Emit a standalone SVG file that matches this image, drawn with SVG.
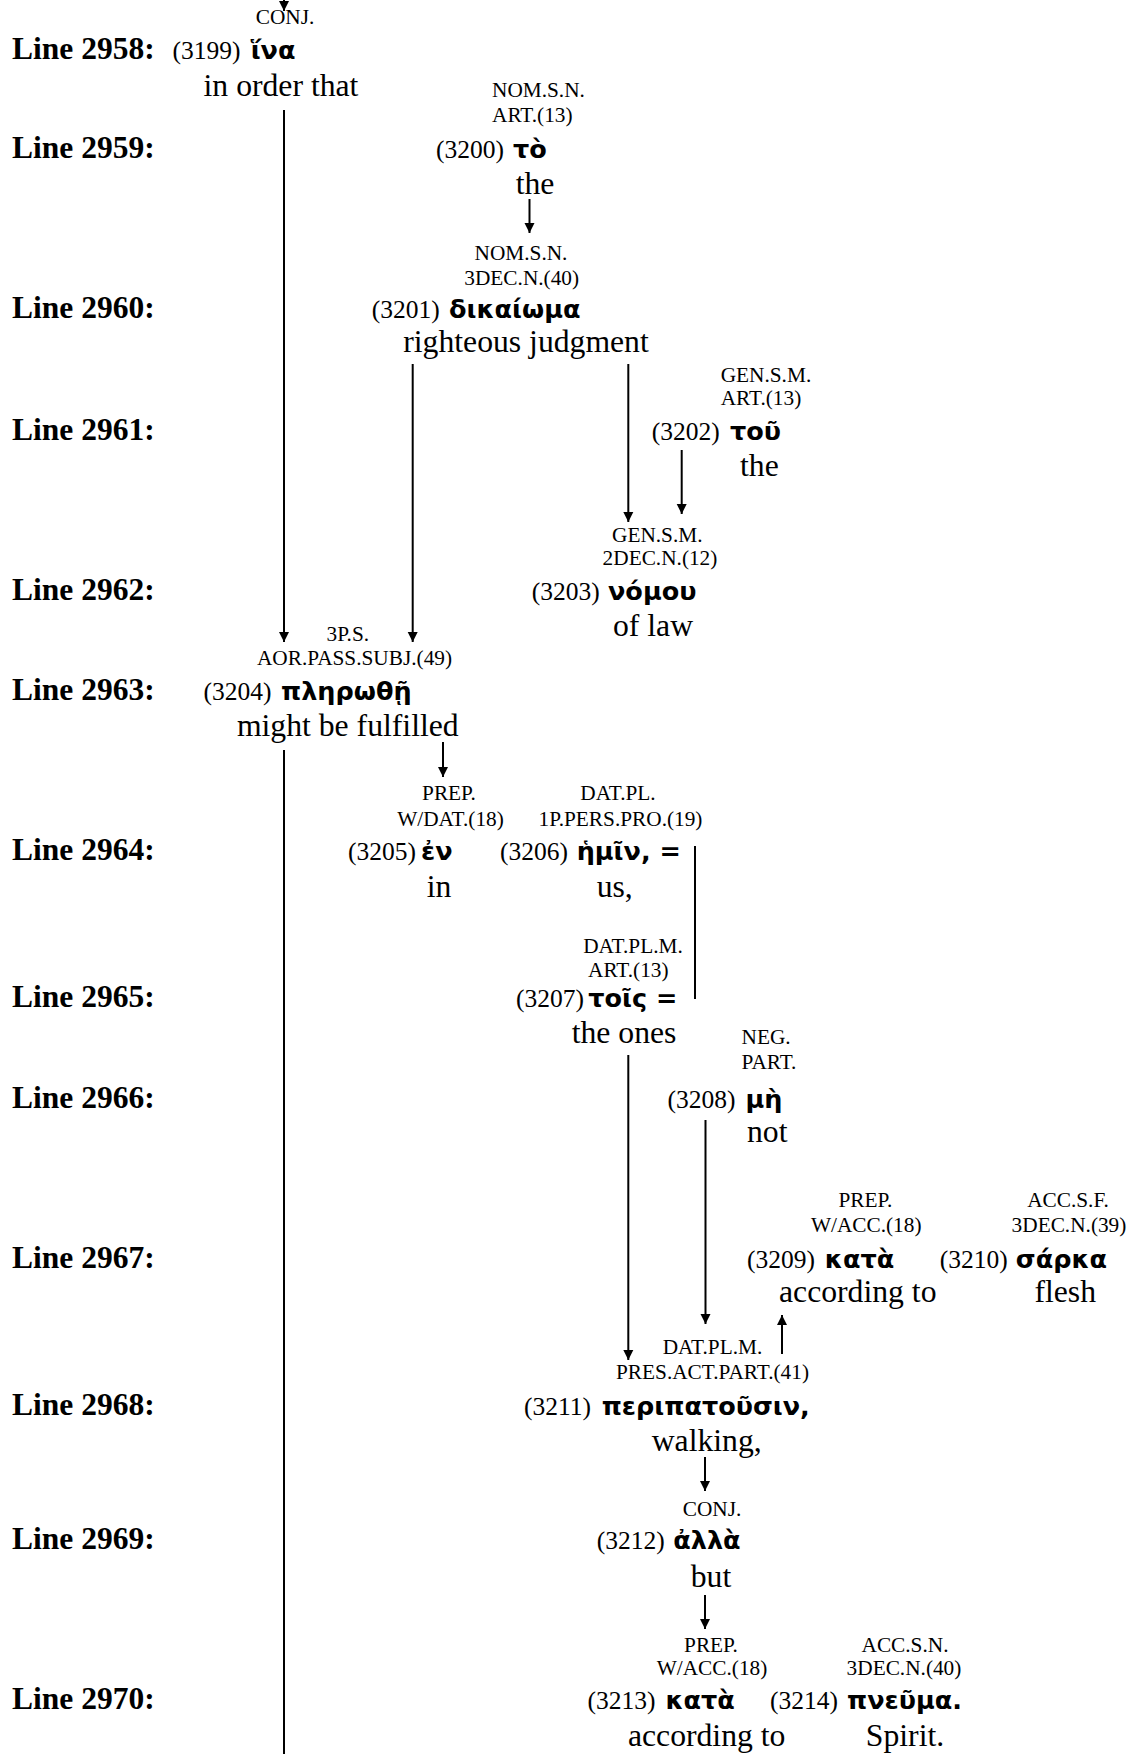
<svg xmlns="http://www.w3.org/2000/svg" width="1130" height="1754" viewBox="0 0 1130 1754">
<style>
.lbl{font-family:"Liberation Serif","Times New Roman",serif;font-weight:bold;font-size:31.5px;fill:#000}
.num{font-family:"Liberation Serif","Times New Roman",serif;font-size:25.5px;fill:#000}
.grk{font-family:"DejaVu Sans","Noto Sans",sans-serif;font-weight:bold;font-size:25.5px;fill:#000}
.gl{font-family:"Liberation Serif","Times New Roman",serif;font-size:31.7px;fill:#000}
.tag{font-family:"Liberation Serif","Times New Roman",serif;font-size:21.3px;fill:#000}
.c{text-anchor:middle}
.ln{stroke:#000;stroke-width:2;fill:none}
</style>
<defs>
<marker id="ah" viewBox="0 0 10 10" refX="10" refY="5" markerWidth="10" markerHeight="11" markerUnits="userSpaceOnUse" orient="auto">
<path d="M0,0 L10,5 L0,10 z" fill="#000"/>
</marker>
</defs>
<rect width="1130" height="1754" fill="#fff"/>

<g id="line-labels">
<text class="lbl" x="12" y="59">Line 2958:</text>
<text class="lbl" x="12" y="158">Line 2959:</text>
<text class="lbl" x="12" y="318">Line 2960:</text>
<text class="lbl" x="12" y="440">Line 2961:</text>
<text class="lbl" x="12" y="600">Line 2962:</text>
<text class="lbl" x="12" y="700">Line 2963:</text>
<text class="lbl" x="12" y="860">Line 2964:</text>
<text class="lbl" x="12" y="1007">Line 2965:</text>
<text class="lbl" x="12" y="1108">Line 2966:</text>
<text class="lbl" x="12" y="1268">Line 2967:</text>
<text class="lbl" x="12" y="1415">Line 2968:</text>
<text class="lbl" x="12" y="1549">Line 2969:</text>
<text class="lbl" x="12" y="1709">Line 2970:</text>
</g>

<g id="connectors">
<line class="ln" x1="284" y1="0" x2="284" y2="11" marker-end="url(#ah)"/>
<line class="ln" x1="284" y1="110" x2="284" y2="642" marker-end="url(#ah)"/>
<line class="ln" x1="529.5" y1="199" x2="529.5" y2="233" marker-end="url(#ah)"/>
<line class="ln" x1="412.7" y1="364" x2="412.7" y2="642" marker-end="url(#ah)"/>
<line class="ln" x1="628.3" y1="364" x2="628.3" y2="522" marker-end="url(#ah)"/>
<line class="ln" x1="681.7" y1="450" x2="681.7" y2="514" marker-end="url(#ah)"/>
<line class="ln" x1="284" y1="750" x2="284" y2="1754"/>
<line class="ln" x1="443" y1="742" x2="443" y2="777" marker-end="url(#ah)"/>
<line class="ln" x1="695" y1="846" x2="695" y2="999"/>
<line class="ln" x1="628.3" y1="1055" x2="628.3" y2="1360" marker-end="url(#ah)"/>
<line class="ln" x1="705.5" y1="1120" x2="705.5" y2="1324" marker-end="url(#ah)"/>
<line class="ln" x1="782" y1="1354" x2="782" y2="1315" marker-end="url(#ah)"/>
<line class="ln" x1="705" y1="1457" x2="705" y2="1491" marker-end="url(#ah)"/>
<line class="ln" x1="705" y1="1595" x2="705" y2="1629" marker-end="url(#ah)"/>
</g>

<g id="w3199">
<text class="tag c" x="285" y="24">CONJ.</text>
<text class="num" x="172.5" y="59">(3199)</text>
<text class="grk" x="250.7" y="59">ἵνα</text>
<text class="gl c" x="281" y="95.5">in order that</text>
</g>

<g id="w3200">
<text class="tag" x="492" y="97">NOM.S.N.</text>
<text class="tag" x="492" y="122">ART.(13)</text>
<text class="num" x="436" y="158">(3200)</text>
<text class="grk" x="513" y="158">τὸ</text>
<text class="gl" x="515.7" y="193.5">the</text>
</g>

<g id="w3201">
<text class="tag c" x="521" y="260">NOM.S.N.</text>
<text class="tag c" x="521.7" y="285">3DEC.N.(40)</text>
<text class="num" x="371.7" y="318">(3201)</text>
<text class="grk" x="449" y="318">δικαίωμα</text>
<text class="gl c" x="526" y="352">righteous judgment</text>
</g>

<g id="w3202">
<text class="tag" x="720.7" y="382">GEN.S.M.</text>
<text class="tag" x="720.7" y="405">ART.(13)</text>
<text class="num" x="651.7" y="440">(3202)</text>
<text class="grk" x="730" y="440">τοῦ</text>
<text class="gl" x="740" y="476">the</text>
</g>

<g id="w3203">
<text class="tag c" x="657.3" y="542">GEN.S.M.</text>
<text class="tag c" x="660" y="565">2DEC.N.(12)</text>
<text class="num" x="531.7" y="600">(3203)</text>
<text class="grk" x="608" y="600">νόμου</text>
<text class="gl" x="613" y="636">of law</text>
</g>

<g id="w3204">
<text class="tag c" x="347.8" y="641">3P.S.</text>
<text class="tag c" x="354.5" y="665">AOR.PASS.SUBJ.(49)</text>
<text class="num" x="203.6" y="700">(3204)</text>
<text class="grk" x="281" y="700">πληρωθῇ</text>
<text class="gl c" x="347.8" y="736">might be fulfilled</text>
</g>

<g id="w3205">
<text class="tag c" x="449" y="800">PREP.</text>
<text class="tag c" x="450.5" y="826">W/DAT.(18)</text>
<text class="num" x="348" y="860">(3205)</text>
<text class="grk" x="421" y="860">ἐν</text>
<text class="gl" x="426.7" y="897">in</text>
</g>

<g id="w3206">
<text class="tag c" x="618" y="800">DAT.PL.</text>
<text class="tag c" x="620.5" y="826">1P.PERS.PRO.(19)</text>
<text class="num" x="500" y="860">(3206)</text>
<text class="grk" x="576.7" y="860">ἡμῖν, =</text>
<text class="gl" x="596.7" y="897">us,</text>
</g>

<g id="w3207">
<text class="tag c" x="633" y="953">DAT.PL.M.</text>
<text class="tag c" x="628.3" y="977">ART.(13)</text>
<text class="num" x="516" y="1007">(3207)</text>
<text class="grk" x="588.3" y="1007">τοῖς =</text>
<text class="gl" x="571.7" y="1043">the ones</text>
</g>

<g id="w3208">
<text class="tag" x="741.5" y="1044">NEG.</text>
<text class="tag" x="741.5" y="1069">PART.</text>
<text class="num" x="667.6" y="1108">(3208)</text>
<text class="grk" x="745.4" y="1108">μὴ</text>
<text class="gl" x="747" y="1142">not</text>
</g>

<g id="w3209">
<text class="tag c" x="865.4" y="1207">PREP.</text>
<text class="tag c" x="866.2" y="1232">W/ACC.(18)</text>
<text class="num" x="747" y="1268">(3209)</text>
<text class="grk" x="824.8" y="1268">κατὰ</text>
<text class="gl" x="779" y="1302">according to</text>
</g>

<g id="w3210">
<text class="tag c" x="1068" y="1207">ACC.S.F.</text>
<text class="tag c" x="1069" y="1232">3DEC.N.(39)</text>
<text class="num" x="939.8" y="1268">(3210)</text>
<text class="grk" x="1015.8" y="1268">σάρκα</text>
<text class="gl" x="1034.4" y="1302">flesh</text>
</g>

<g id="w3211">
<text class="tag c" x="712.5" y="1354">DAT.PL.M.</text>
<text class="tag c" x="712.5" y="1379">PRES.ACT.PART.(41)</text>
<text class="num" x="524" y="1415">(3211)</text>
<text class="grk" x="601.7" y="1415">περιπατοῦσιν,</text>
<text class="gl c" x="706.7" y="1451">walking,</text>
</g>

<g id="w3212">
<text class="tag c" x="712" y="1516">CONJ.</text>
<text class="num" x="596.7" y="1549">(3212)</text>
<text class="grk" x="673.3" y="1549">ἀλλὰ</text>
<text class="gl c" x="711" y="1587">but</text>
</g>

<g id="w3213">
<text class="tag c" x="711" y="1652">PREP.</text>
<text class="tag c" x="712" y="1675">W/ACC.(18)</text>
<text class="num" x="587.6" y="1709">(3213)</text>
<text class="grk" x="665.4" y="1709">κατὰ</text>
<text class="gl c" x="706.7" y="1746">according to</text>
</g>

<g id="w3214">
<text class="tag c" x="905" y="1652">ACC.S.N.</text>
<text class="tag c" x="904" y="1675">3DEC.N.(40)</text>
<text class="num" x="770" y="1709">(3214)</text>
<text class="grk" x="847" y="1709">πνεῦμα.</text>
<text class="gl c" x="905" y="1746">Spirit.</text>
</g>
</svg>
